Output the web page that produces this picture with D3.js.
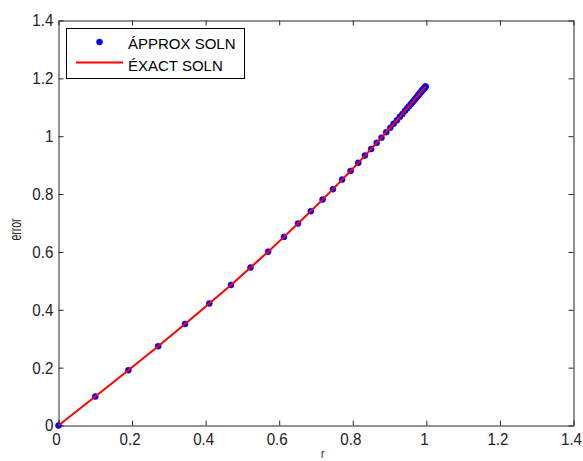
<!DOCTYPE html>
<html><head><meta charset="utf-8">
<script src="https://cdn.jsdelivr.net/npm/d3@7"></script>
<style>body{margin:0;background:#fff} svg{display:block}</style>
</head><body><svg id="c" width="583" height="461"></svg>
<script>
const rValues = [0, 0.100, 0.190, 0.271, 0.344, 0.410, 0.469, 0.522, 0.570, 0.613,
  0.651, 0.686, 0.718, 0.746, 0.771, 0.794, 0.815, 0.833, 0.850, 0.865,
  0.878, 0.891, 0.902, 0.911, 0.920, 0.928, 0.935, 0.942, 0.948, 0.953,
  0.958, 0.962, 0.966, 0.969, 0.972, 0.975, 0.977, 0.980, 0.982, 0.984,
  0.985, 0.987, 0.988, 0.989, 0.990, 0.991, 0.992, 0.993, 0.994, 0.995,
  0.996, 0.997, 0.998];
const approxValues = [0, 0.100, 0.191, 0.274, 0.351, 0.422, 0.486, 0.546, 0.601, 0.652,
  0.698, 0.741, 0.781, 0.817, 0.850, 0.880, 0.908, 0.933, 0.956, 0.977,
  0.995, 1.014, 1.029, 1.043, 1.055, 1.067, 1.077, 1.088, 1.097, 1.104,
  1.111, 1.117, 1.123, 1.128, 1.132, 1.137, 1.140, 1.145, 1.148, 1.151,
  1.152, 1.155, 1.157, 1.158, 1.160, 1.161, 1.163, 1.164, 1.166, 1.167,
  1.169, 1.171, 1.172];
const exactValues = [0, 0.100, 0.191, 0.274, 0.351, 0.422, 0.486, 0.546, 0.601, 0.652,
  0.698, 0.741, 0.781, 0.817, 0.850, 0.880, 0.908, 0.933, 0.956, 0.977,
  0.995, 1.014, 1.029, 1.043, 1.055, 1.067, 1.077, 1.088, 1.097, 1.104,
  1.111, 1.117, 1.123, 1.128, 1.132, 1.137, 1.140, 1.145, 1.148, 1.151,
  1.152, 1.155, 1.157, 1.158, 1.160, 1.161, 1.163, 1.164, 1.166, 1.167,
  1.169, 1.171, 1.172];
const xTickValues = [0, 0.2, 0.4, 0.6, 0.8, 1, 1.2, 1.4];
const yTickValues = [0, 0.2, 0.4, 0.6, 0.8, 1, 1.2, 1.4];
const xTickLabels = ["0", "0.2", "0.4", "0.6", "0.8", "1", "1.2", "1.4"];
const yTickLabels = ["0", "0.2", "0.4", "0.6", "0.8", "1", "1.2", "1.4"];
const legendLabels = ["ÁPPROX SOLN", "ÉXACT SOLN"];
const xLabel = "r";
const yLabel = "error";

const svg = d3.select("#c");
const L = 58.5, R = 573.5, T = 20.5, B = 425.5;
const x = d3.scaleLinear().domain([0, 1.4]).range([L, R]);
const y = d3.scaleLinear().domain([0, 1.4]).range([B, T]);
const axisColor = "#262626";
const tickFont = "'Liberation Sans', Arial, sans-serif";

function styleAxis(g) {
  g.select(".domain").attr("stroke", axisColor).attr("stroke-width", 1);
  g.selectAll(".tick line").attr("stroke", axisColor);
  g.selectAll(".tick text").attr("fill", "#222").attr("font-size", 17).attr("font-family", tickFont);
}

// bottom
const gb = svg.append("g").attr("transform", `translate(0,${B})`)
  .call(d3.axisBottom(x).tickValues(xTickValues).tickSizeInner(-5).tickSizeOuter(0)
    .tickPadding(7.5).tickFormat((d, i) => xTickLabels[i]));
styleAxis(gb);
gb.selectAll(".tick text").attr("transform", "translate(-2.5,0) scale(0.89,1)");
// top
const gt = svg.append("g").attr("transform", `translate(0,${T})`)
  .call(d3.axisTop(x).tickValues(xTickValues).tickSizeInner(-5).tickSizeOuter(0).tickFormat(""));
styleAxis(gt);
// left
const gl = svg.append("g").attr("transform", `translate(${L},0)`)
  .call(d3.axisLeft(y).tickValues(yTickValues).tickSizeInner(-5).tickSizeOuter(0)
    .tickPadding(5).tickFormat((d, i) => yTickLabels[i]));
styleAxis(gl);
gl.selectAll(".tick text").attr("x", 0).attr("transform", "translate(-5.2,0) scale(0.89,1)");
// right
const gr = svg.append("g").attr("transform", `translate(${R},0)`)
  .call(d3.axisRight(y).tickValues(yTickValues).tickSizeInner(-5).tickSizeOuter(0).tickFormat(""));
styleAxis(gr);

// axis labels
svg.append("text").text(yLabel)
  .attr("transform", "translate(20.5,229.5) rotate(-90) scale(0.62,1)")
  .attr("text-anchor", "middle").attr("font-family", tickFont).attr("font-size", 17).attr("fill", "#222");
svg.append("text").text(xLabel)
  .attr("transform", "translate(322.7,457.5) scale(0.8,1)")
  .attr("text-anchor", "middle").attr("font-family", tickFont).attr("font-size", 12).attr("fill", "#222");

// approx points
svg.append("g").selectAll("circle").data(rValues).join("circle")
  .attr("cx", d => x(d)).attr("cy", (d, i) => y(approxValues[i]))
  .attr("r", 3).attr("fill", "#0000ff").attr("stroke", "#0000ff").attr("stroke-width", 0.6);

// exact line
const line = d3.line().x(d => x(d[0])).y(d => y(d[1]));
svg.append("path").datum(rValues.map((r, i) => [r, exactValues[i]]))
  .attr("d", line).attr("fill", "none").attr("stroke", "#ff0000").attr("stroke-width", 2);

// legend
const lg = svg.append("g");
lg.append("rect").attr("x", 66.5).attr("y", 28.5).attr("width", 178).attr("height", 50)
  .attr("fill", "#fff").attr("stroke", "#000").attr("stroke-width", 1);
lg.append("circle").attr("cx", 99.5).attr("cy", 42).attr("r", 3)
  .attr("fill", "#0000ff").attr("stroke", "#0000ff").attr("stroke-width", 0.6);
lg.append("line").attr("x1", 76).attr("x2", 123).attr("y1", 62.5).attr("y2", 62.5)
  .attr("stroke", "#ff0000").attr("stroke-width", 2);
lg.selectAll("text.leg").data(legendLabels).join("text").attr("class", "leg")
  .attr("x", 128).attr("y", (d, i) => i === 0 ? 48.5 : 70.7)
  .attr("font-family", tickFont).attr("font-size", 15).attr("fill", "#000")
  .text(d => d);
</script></body></html>
